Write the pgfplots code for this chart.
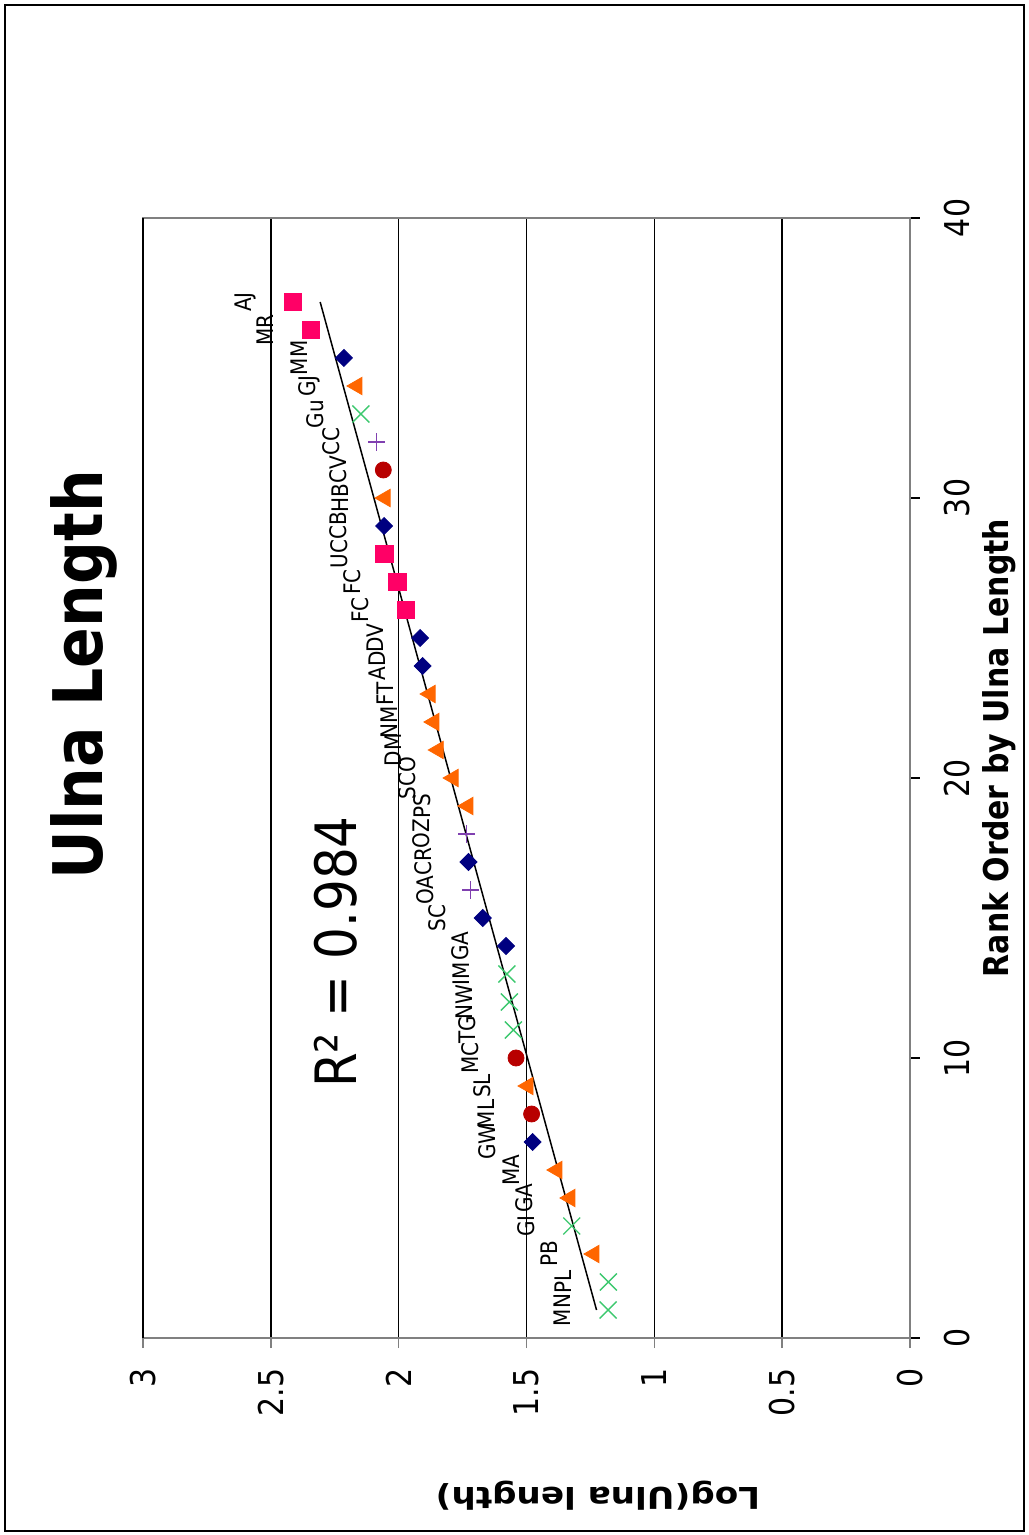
\documentclass[border=0pt]{standalone}
\usepackage{fontspec}
\setmainfont{DejaVu Sans}
\usepackage{pgfplots}
\usepackage{pgfplotstable}
\pgfplotsset{compat=1.18}

\definecolor{navy}{HTML}{000080}
\definecolor{hotpink}{HTML}{FF0066}
\definecolor{orng}{HTML}{FF6600}
\definecolor{ltgreen}{HTML}{3CC86E}
\definecolor{purp}{HTML}{8040B0}
\definecolor{darkred}{HTML}{B80000}
\definecolor{framegray}{HTML}{808080}

% rank = position in the ordering, val = log10 of ulna length, lab = specimen code
\pgfplotstableread{
rank val lab
1 1.181 MN
2 1.180 PL
4 1.323 GI
11 1.551 TG
12 1.567 NW
13 1.577 IM
33 2.148 Gu
}\greenx

\pgfplotstableread{
rank val lab
3 1.236 PB
5 1.330 GA
6 1.381 MA
9 1.494 SL
19 1.729 PS
20 1.787 SCO
21 1.845 DM
22 1.862 NM
23 1.877 FT
30 2.053 HB
34 2.163 GJ
}\orangetri

\pgfplotstableread{
rank val lab
7 1.476 GW
14 1.580 GA
15 1.671 SC
17 1.727 CR
24 1.906 AD
25 1.916 DV
29 2.057 CB
35 2.214 MM
}\bluediam

\pgfplotstableread{
rank val lab
8 1.480 ML
10 1.541 MC
31 2.060 CV
}\redcirc

\pgfplotstableread{
rank val lab
16 1.718 OA
18 1.734 OZ
32 2.086 CC
}\purpplus

\pgfplotstableread{
rank val lab
26 1.971 FC
27 2.005 FC
28 2.056 UC
36 2.344 MR
37 2.414 AJ
}\pinksq

% end points of the least-squares line
\pgfplotstableread{
rank val
1 1.226
37 2.307
}\trend

\begin{document}
\begin{tikzpicture}
\begin{axis}[
  scale only axis,
  width=383.5pt, height=560pt,
  x dir=reverse,
  xmin=0, xmax=3, ymin=0, ymax=40,
  xtick={0,0.5,...,3}, ytick={0,10,...,40},
  /pgf/number format/assume math mode=true,
  xmajorgrids,
  major grid style={black, line width=0.75pt},
  axis line style={framegray, line width=0.75pt},
  tick align=outside,
  xtick pos=bottom, xticklabel pos=bottom,
  ytick pos=right, yticklabel pos=right,
  major tick length=5pt,
  x tick style={framegray, line width=0.75pt},
  y tick style={black, line width=0.75pt},
  xticklabel shift=10pt,
  yticklabel shift=12pt,
  xticklabel style={rotate=90, anchor=east, yscale=1.14, inner sep=0pt,
    font=\fontsize{15}{18}\selectfont},
  yticklabel style={rotate=90, anchor=north, yscale=1.14, inner sep=0pt,
    font=\fontsize{15}{18}\selectfont},
  clip=false,
  lbl/.style={nodes near coords, point meta=explicit symbolic,
    nodes near coords style={rotate=90, anchor=south, yscale=1.14,
      inner xsep=0pt, inner ysep=16pt, text=black,
      font=\fontsize{10}{12}\selectfont}},
]
\addplot[lbl, only marks, mark=*, mark size=4pt, color=darkred]
  table[x=val, y=rank, meta=lab] {\redcirc};
\addplot[lbl, only marks, mark=triangle*, mark size=5pt, color=orng,
  mark options={rotate=90}]
  table[x=val, y=rank, meta=lab] {\orangetri};
\addplot[lbl, only marks, mark=x, mark size=6pt, color=ltgreen,
  mark options={line width=0.7pt}]
  table[x=val, y=rank, meta=lab] {\greenx};
\addplot[lbl, only marks, mark=+, mark size=4.3pt, color=purp,
  mark options={line width=0.6pt}]
  table[x=val, y=rank, meta=lab] {\purpplus};
\addplot[lbl, only marks, mark=square*, mark size=3pt, color=navy,
  mark options={rotate=45}]
  table[x=val, y=rank, meta=lab] {\bluediam};
\addplot[lbl, only marks, mark=square*, mark size=4.3pt, color=hotpink]
  table[x=val, y=rank, meta=lab] {\pinksq};
\addplot[black, line width=0.75pt, mark=none]
  table[x=val, y=rank] {\trend};

% rank axis line in black
\draw[black, line width=0.75pt] (rel axis cs:0,0) -- (rel axis cs:0,1);

\node[rotate=90, yscale=1.14, anchor=base, font=\fontsize{30}{36}\selectfont\bfseries]
  at (axis description cs:-0.0522,0.5920) {Ulna Length};
\node[rotate=90, yscale=1.14, anchor=base, font=\fontsize{25}{30}\selectfont]
  at (axis description cs:0.2790,0.3446) {R² = 0.984};
\node[rotate=90, yscale=1.14, anchor=base, font=\fontsize{15}{18}\selectfont\bfseries]
  at (axis description cs:1.1278,0.5268) {Rank Order by Ulna Length};
\node[rotate=180, xscale=1.14, anchor=base, font=\fontsize{15}{18}\selectfont\bfseries]
  at (axis description cs:0.5932,-0.1339) {Log(Ulna length)};
\end{axis}
\draw[black, line width=1pt] (-69pt,-96.5pt) rectangle (440.5pt,666.5pt);
\pgfresetboundingbox
\path[use as bounding box] (-71.5pt,-98.5pt) rectangle (442.5pt,669pt);
\end{tikzpicture}
\end{document}
